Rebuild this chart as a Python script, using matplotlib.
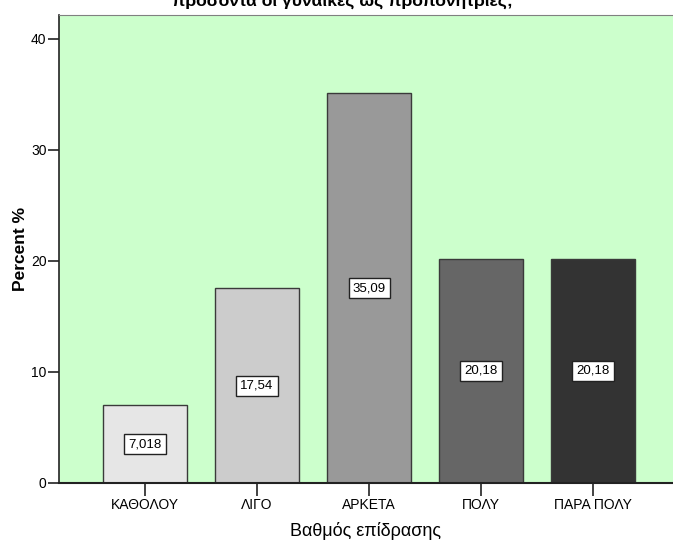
import matplotlib.pyplot as plt

plt.rcParams['font.family'] = ['Liberation Sans', 'DejaVu Sans']

categories = ['ΚΑΘΟΛΟΥ', 'ΛΙΓΟ', 'ΑΡΚΕΤΑ', 'ΠΟΛΥ', 'ΠΑΡΑ ΠΟΛΥ']
percent = [7.018, 17.54, 35.09, 20.18, 20.18]
labels = ['7,018', '17,54', '35,09', '20,18', '20,18']
colors = ['#e6e6e6', '#cccccc', '#999999', '#666666', '#333333']

fig = plt.figure(figsize=(6.73, 5.42), dpi=100)
ax = fig.add_axes([59 / 673, 1 - 483 / 542, 1 - 59 / 673, (483 - 15) / 542])
ax.set_facecolor('#ccffcc')

x = list(range(len(categories)))
ax.bar(x, percent, width=0.75, color=colors, edgecolor='#3a3a3a', linewidth=1.0, zorder=2)

for i, v in enumerate(percent):
    ax.text(i, v / 2, labels[i], ha='center', va='center', fontsize=9.5, zorder=3,
            bbox=dict(boxstyle='square,pad=0.3', fc='white', ec='#222222', lw=1.0))

ax.set_xlim(-0.768, 4.714)
ax.set_ylim(0, 42.16)
ax.set_yticks([0, 10, 20, 30, 40])
ax.set_xticks(x)
ax.set_xticklabels(categories, fontsize=10)
ax.tick_params(axis='y', labelsize=10, length=8, width=1.2, color='#222222', pad=1)
ax.tick_params(axis='x', length=9, width=1.2, color='#222222', pad=2)

ax.spines['right'].set_visible(False)
ax.spines['top'].set_color('#808080')
ax.spines['left'].set_color('#222222')
ax.spines['bottom'].set_color('#222222')
ax.spines['left'].set_linewidth(1.2)
ax.spines['bottom'].set_linewidth(1.5)

ax.set_ylabel('Percent %', fontsize=12.5, fontweight='bold', labelpad=2)
ax.set_xlabel('Βαθμός επίδρασης', fontsize=13, labelpad=7)

fig.text(0.509, 1 - 5.5 / 542, 'προσόντα οι γυναίκες ως προπονήτριες;', ha='center', va='baseline',
         fontsize=12.6, fontweight='bold')

fig.savefig('out.png', dpi=100)
